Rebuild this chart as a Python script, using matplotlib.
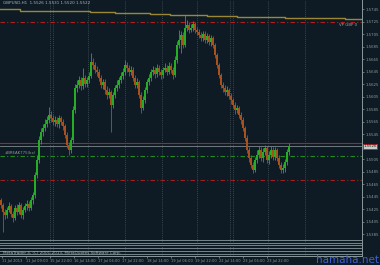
import matplotlib
matplotlib.use('Agg')
import matplotlib.pyplot as plt

bg = '#0e1b24'
up_color = '#25ad25'
down_color = '#a9511d'
text_color = '#a9b4b6'

# GBPUSD H1 candles (open = previous close)
first_open = 1.5440
close = [1.5432, 1.5421, 1.5416, 1.5424, 1.5430, 1.5418, 1.5411, 1.5427, 1.5421, 1.5432,
         1.5416, 1.5424, 1.5430, 1.5434, 1.5427, 1.5440, 1.5448, 1.5480, 1.5504, 1.5536,
         1.5549, 1.5555, 1.5562, 1.5568, 1.5576, 1.5571, 1.5565, 1.5568, 1.5562, 1.5571,
         1.5565, 1.5558, 1.5544, 1.5528, 1.5520, 1.5536, 1.5584, 1.5619, 1.5624, 1.5632,
         1.5622, 1.5635, 1.5626, 1.5632, 1.5638, 1.5661, 1.5656, 1.5648, 1.5645, 1.5635,
         1.5624, 1.5629, 1.5616, 1.5608, 1.5613, 1.5592, 1.5608, 1.5619, 1.5624, 1.5632,
         1.5638, 1.5645, 1.5656, 1.5651, 1.5645, 1.5648, 1.5635, 1.5624, 1.5629, 1.5608,
         1.5587, 1.5600, 1.5616, 1.5629, 1.5635, 1.5645, 1.5648, 1.5642, 1.5651, 1.5645,
         1.5640, 1.5648, 1.5651, 1.5645, 1.5654, 1.5648, 1.5640, 1.5664, 1.5688, 1.5696,
         1.5704, 1.5688, 1.5715, 1.5720, 1.5712, 1.5715, 1.5722, 1.5712, 1.5709, 1.5704,
         1.5699, 1.5706, 1.5696, 1.5702, 1.5693, 1.5699, 1.5688, 1.5672, 1.5656, 1.5640,
         1.5624, 1.5619, 1.5613, 1.5616, 1.5606, 1.5600, 1.5592, 1.5584, 1.5587, 1.5576,
         1.5568, 1.5555, 1.5539, 1.5520, 1.5507, 1.5496, 1.5488, 1.5504, 1.5512, 1.5520,
         1.5507, 1.5517, 1.5523, 1.5504, 1.5512, 1.5520, 1.5509, 1.5520, 1.5507, 1.5496,
         1.5488, 1.5491, 1.5501, 1.5517, 1.5526]
high = [1.5443, 1.5435, 1.5426, 1.5429, 1.5437, 1.5434, 1.5422, 1.5432, 1.5434, 1.5437,
        1.5435, 1.5429, 1.5435, 1.5440, 1.5438, 1.5445, 1.5453, 1.5485, 1.5512, 1.5542,
        1.5555, 1.5562, 1.5570, 1.5574, 1.5589, 1.5582, 1.5576, 1.5574, 1.5573, 1.5576,
        1.5574, 1.5570, 1.5562, 1.5549, 1.5533, 1.5541, 1.5590, 1.5626, 1.5632, 1.5638,
        1.5637, 1.5651, 1.5640, 1.5637, 1.5645, 1.5675, 1.5667, 1.5661, 1.5654, 1.5650,
        1.5640, 1.5634, 1.5634, 1.5622, 1.5619, 1.5616, 1.5613, 1.5624, 1.5632, 1.5637,
        1.5645, 1.5651, 1.5664, 1.5661, 1.5656, 1.5654, 1.5653, 1.5640, 1.5635, 1.5632,
        1.5613, 1.5606, 1.5621, 1.5634, 1.5642, 1.5650, 1.5654, 1.5653, 1.5658, 1.5656,
        1.5650, 1.5653, 1.5659, 1.5656, 1.5661, 1.5659, 1.5653, 1.5670, 1.5694, 1.5712,
        1.5710, 1.5709, 1.5736, 1.5728, 1.5725, 1.5722, 1.5726, 1.5725, 1.5717, 1.5714,
        1.5709, 1.5710, 1.5710, 1.5707, 1.5706, 1.5704, 1.5702, 1.5691, 1.5675, 1.5659,
        1.5643, 1.5629, 1.5624, 1.5622, 1.5619, 1.5611, 1.5603, 1.5597, 1.5592, 1.5590,
        1.5581, 1.5573, 1.5558, 1.5544, 1.5525, 1.5512, 1.5501, 1.5509, 1.5520, 1.5526,
        1.5525, 1.5523, 1.5528, 1.5526, 1.5518, 1.5526, 1.5525, 1.5525, 1.5523, 1.5512,
        1.5501, 1.5498, 1.5506, 1.5522, 1.5531]
low = [1.5427, 1.5389, 1.5410, 1.5411, 1.5421, 1.5413, 1.5405, 1.5408, 1.5416, 1.5418,
       1.5411, 1.5410, 1.5421, 1.5424, 1.5422, 1.5424, 1.5434, 1.5443, 1.5475, 1.5499,
       1.5530, 1.5542, 1.5550, 1.5557, 1.5563, 1.5565, 1.5560, 1.5558, 1.5557, 1.5555,
       1.5560, 1.5552, 1.5539, 1.5523, 1.5512, 1.5515, 1.5531, 1.5579, 1.5613, 1.5619,
       1.5616, 1.5618, 1.5621, 1.5621, 1.5627, 1.5635, 1.5650, 1.5643, 1.5638, 1.5630,
       1.5619, 1.5618, 1.5610, 1.5602, 1.5603, 1.5549, 1.5587, 1.5603, 1.5614, 1.5619,
       1.5627, 1.5634, 1.5640, 1.5645, 1.5638, 1.5640, 1.5630, 1.5619, 1.5619, 1.5603,
       1.5579, 1.5584, 1.5595, 1.5611, 1.5624, 1.5630, 1.5640, 1.5635, 1.5637, 1.5640,
       1.5634, 1.5635, 1.5645, 1.5640, 1.5642, 1.5643, 1.5634, 1.5637, 1.5659, 1.5683,
       1.5675, 1.5683, 1.5685, 1.5710, 1.5707, 1.5709, 1.5710, 1.5707, 1.5704, 1.5699,
       1.5694, 1.5694, 1.5691, 1.5691, 1.5688, 1.5686, 1.5683, 1.5667, 1.5651, 1.5635,
       1.5619, 1.5613, 1.5608, 1.5606, 1.5602, 1.5594, 1.5587, 1.5578, 1.5579, 1.5571,
       1.5562, 1.5550, 1.5534, 1.5515, 1.5501, 1.5491, 1.5483, 1.5485, 1.5499, 1.5507,
       1.5502, 1.5501, 1.5512, 1.5499, 1.5498, 1.5507, 1.5504, 1.5504, 1.5502, 1.5491,
       1.5483, 1.5483, 1.5485, 1.5496, 1.5512]

# higher timeframe average, drawn as steps (bar index where each step starts)
ma_start = [-0.5, 9.5, 27, 44.5, 57, 74.5, 84.5, 93, 103, 118, 142, 172]
ma_level = [1.57451, 1.57429, 1.57419, 1.57403, 1.57387, 1.57376, 1.57365, 1.57355,
            1.57344, 1.57333, 1.57307, 1.57291]

bid = 1.5526
ask = 1.5531
vp_level = 1.5725
green_level = 1.5510
red_level = 1.5472
pivot_lines = [1.5376, 1.5372, 1.5368, 1.5363, 1.5359, 1.5354]

price_ticks = [1.5745, 1.5725, 1.5705, 1.5685, 1.5665, 1.5645, 1.5625, 1.5605, 1.5585,
               1.5565, 1.5545, 1.5505, 1.5485, 1.5465, 1.5445, 1.5425, 1.5405, 1.5385]
date_labels = ['11 Jul 2013', '11 Jul 09:00', '15 Jul 22:00', '16 Jul 14:00',
               '17 Jul 06:00', '17 Jul 22:00', '18 Jul 14:00', '19 Jul 06:00',
               '19 Jul 22:00', '22 Jul 14:00', '23 Jul 06:00', '23 Jul 22:00']

ymin, ymax = 1.53504, 1.5760

fig = plt.figure(figsize=(3.8, 2.65), dpi=100, facecolor=bg)
ax = fig.add_axes([0, 9/265, 362/380, 256/265], facecolor=bg)
ax.set_xlim(-0.5, 180.5)
ax.set_ylim(ymin, ymax)

# vertical dotted grid (pixel columns of the reference)
for px in [50, 52.5, 88, 125, 162, 197, 230, 233, 268, 305]:
    ax.axvline((px - 1) / 2, color='#46565c', lw=0.6, ls=(0, (1, 1.5)), zorder=1)

opens = [first_open] + close[:-1]
for i in range(len(close)):
    o, c = opens[i], close[i]
    col = up_color if c >= o else down_color
    ax.vlines(i, low[i], high[i], color=col, lw=0.6, zorder=3)
    ax.bar(i, max(abs(c - o), 0.00008), bottom=min(o, c), width=0.8, color=col,
           linewidth=0, zorder=3)

ma_x = ma_start + [180.5]
ma_y = ma_level + [ma_level[-1]]
ax.plot(ma_x, ma_y, drawstyle='steps-post', color='#9c8834', lw=1.0, zorder=4)

ax.axhline(vp_level, color='#b01e1e', lw=0.8, ls=(0, (4, 2, 1, 2)), zorder=2)
ax.text(178, vp_level - 0.0002, 'VP GBP 0', color='#9aa4a6', fontsize=2.8,
        ha='right', va='top')
ax.axhline(ask, color='#b02020', lw=0.8, zorder=2)
ax.axhline(bid, color='#7c8a8e', lw=0.6, zorder=2)
ax.axhline(green_level, color='#1f8c1f', lw=0.8, ls=(0, (4, 2, 1, 2)), zorder=2)
ax.text(2, green_level + 0.0002, '#BREAK775(bx)', color='#8c9698', fontsize=2.8,
        ha='left', va='bottom')
ax.axhline(red_level, color='#a01e1e', lw=0.8, ls=(0, (4, 2, 1, 2)), zorder=2)
for lvl in pivot_lines:
    ax.axhline(lvl, color='#76878b', lw=0.7, zorder=2)

ax.yaxis.tick_right()
ax.set_yticks(price_ticks)
ax.set_yticklabels(['%.4f' % p for p in price_ticks])
ax.tick_params(axis='y', colors='#8c9a9c', labelsize=2.8, length=1.2, width=0.5, pad=1)
ax.text(1.004, (bid - ymin) / (ymax - ymin), '%.4f' % bid, transform=ax.transAxes,
        fontsize=2.8, color='#1a1a1a', va='center', ha='left',
        bbox=dict(boxstyle='square,pad=0.15', facecolor='#c8cccc', edgecolor='#c02020',
                  linewidth=0.6), clip_on=False)

date_pos = [(2 + 24.1 * k - 1) / 2 for k in range(len(date_labels))]
ax.set_xticks(date_pos)
ax.set_xticklabels(date_labels)
ax.tick_params(axis='x', colors='#8c9a9c', labelsize=2.6, length=1.2, width=0.5, pad=1)
for lab in ax.get_xticklabels():
    lab.set_ha('left')

for side in ['top', 'left']:
    ax.spines[side].set_visible(False)
ax.spines['right'].set_color('#8a9a9c')
ax.spines['bottom'].set_color('#8a9a9c')
ax.spines['right'].set_linewidth(0.7)
ax.spines['bottom'].set_linewidth(0.7)

ax.text(0.008, 0.995, 'GBPUSD,H1  1.5526 1.5531 1.5520 1.5522', transform=ax.transAxes,
        fontsize=3.0, color=text_color, va='top', ha='left')
ax.text(0.008, 0.003, 'MetaTrader 4, (C) 2001-2013, MetaQuotes Software Corp.',
        transform=ax.transAxes, fontsize=3.0, color=text_color, va='bottom', ha='left')

fig.text(0.998, 0.0, 'hamaha.net', color='#3d5fd6', fontsize=7.5, ha='right',
         va='bottom', family='DejaVu Sans')

fig.savefig('out.png', dpi=100, facecolor=bg)
